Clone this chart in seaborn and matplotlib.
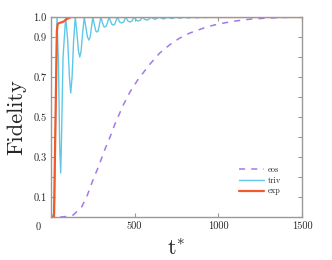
import matplotlib
matplotlib.use("Agg")
import matplotlib.pyplot as plt
import seaborn as sns

# data
eos_t = [55, 100, 133, 183, 213, 253, 283, 323, 353, 382, 432, 472, 522, 592, 650, 711, 770, 830, 930, 1000, 1100, 1200, 1300, 1400, 1500]
eos_f = [0.0, 0.003, 0.01, 0.05, 0.10, 0.19, 0.25, 0.34, 0.40, 0.465, 0.56, 0.625, 0.69, 0.765, 0.82, 0.862, 0.895, 0.92, 0.95, 0.965, 0.98, 0.99, 0.995, 0.998, 1.0]

triv_t = [0, 20, 36, 45, 52, 58, 63, 72, 88, 100, 110, 118, 126, 135, 145, 155, 164, 172, 180, 189, 199,
          208, 218, 226, 234, 242, 250, 258, 268, 275, 282, 290, 298, 306, 316, 322, 330, 339, 347,
          355, 365, 372, 380, 389, 397, 410, 422, 434, 447, 460, 472, 484, 497, 510, 522, 534, 547,
          560, 572, 584, 597, 622, 647, 672, 697, 722, 747, 772, 797, 822, 847, 872, 897, 922, 947, 1000, 1500]
triv_f = [0.0, 0.02, 1.0, 0.75, 0.35, 0.22, 0.40, 0.80, 1.0, 0.88, 0.70, 0.62, 0.70, 0.88, 1.0, 0.92, 0.83, 0.80, 0.83, 0.92, 1.0,
          0.95, 0.90, 0.885, 0.90, 0.95, 1.0, 0.965, 0.93, 0.925, 0.93, 0.965, 1.0, 0.975, 0.952, 0.95, 0.955, 0.975, 1.0,
          0.982, 0.962, 0.96, 0.962, 0.982, 1.0, 0.975, 0.97, 0.975, 1.0, 0.98, 0.975, 0.98, 1.0, 0.984, 0.98, 0.984, 1.0,
          0.988, 0.985, 0.988, 1.0, 0.988, 1.0, 0.99, 1.0, 0.992, 1.0, 0.994, 1.0, 0.995, 1.0, 0.996, 1.0, 0.997, 1.0, 1.0, 1.0]

exp_t = [0, 18, 35, 40, 50, 75, 95, 120, 300, 1500]
exp_f = [0.0, 0.0, 0.93, 0.965, 0.97, 0.977, 0.99, 1.0, 1.0, 1.0]

yticks = [0, 0.1, 0.2, 0.3, 0.4, 0.5, 0.6, 0.7, 0.8, 0.9, 1.0]
ylabels = ["", "0.1", "", "0.3", "", "0.5", "", "0.7", "", "0.9", "1.0"]
xticks = [500, 1000, 1500]

sns.set_style("ticks")
plt.rcParams["font.family"] = ["cmr10", "DejaVu Serif"]
plt.rcParams["mathtext.fontset"] = "cm"
plt.rcParams["axes.formatter.use_mathtext"] = True

fig = plt.figure(figsize=(3.32, 2.60), dpi=100)
ax = fig.add_axes([0.1536, 0.1654, 0.756, 0.7692])

sns.lineplot(x=eos_t, y=eos_f, ax=ax, color="#a07ae8", lw=1.1, linestyle=(0, (4, 4)), label="eos")
sns.lineplot(x=triv_t, y=triv_f, ax=ax, color="#5fc8e6", lw=1.0, label="triv")
sns.lineplot(x=exp_t, y=exp_f, ax=ax, color="#f25a2a", lw=1.6, label="exp")

ax.set_xlim(0, 1500)
ax.set_ylim(0, 1.0)
ax.set_xticks(xticks)
ax.set_xticklabels([str(v) for v in xticks])
ax.set_yticks(yticks)
ax.set_yticklabels(ylabels)
ax.tick_params(direction="in", top=True, right=True, color="#999999", length=3,
               labelsize=7.5, width=0.8, pad=3)
for s in ax.spines.values():
    s.set_color("#999999")
    s.set_linewidth(1.0)

ax.text(-0.04, -0.03, "0", transform=ax.transAxes, ha="right", va="top", fontsize=7.5)

ax.set_ylabel("Fidelity", fontsize=16, labelpad=5)
ax.set_xlabel(r"$\mathrm{t}^{*}$", fontsize=16, labelpad=6)

ax.legend(loc="lower left", bbox_to_anchor=(0.72, 0.07), frameon=False, fontsize=6,
          handlelength=3.0, handletextpad=0.4, labelspacing=0.3)

fig.savefig("out.png", dpi=100)
